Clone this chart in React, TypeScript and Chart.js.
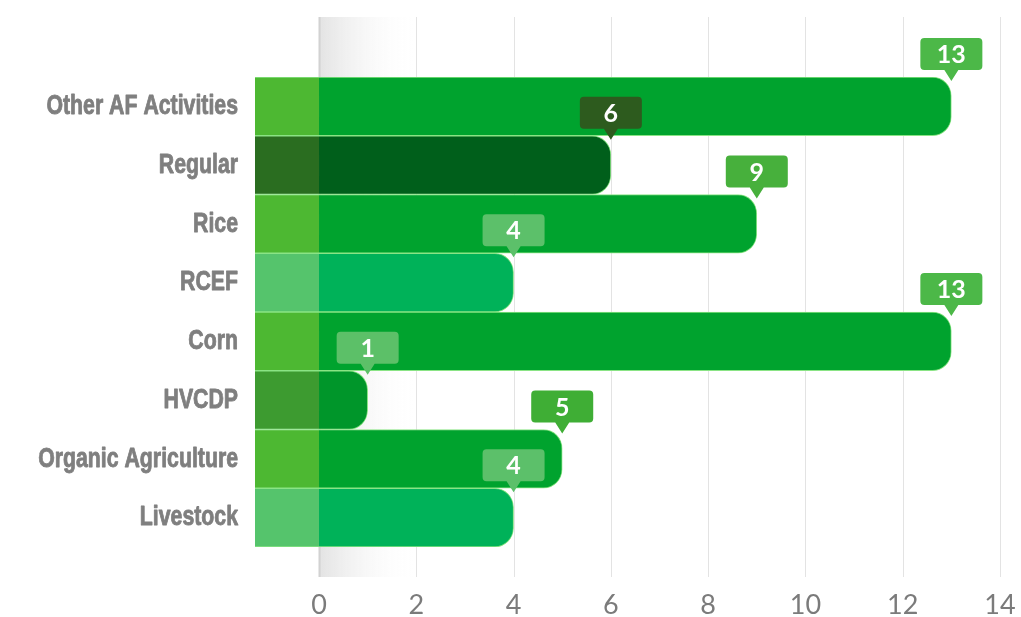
import React, { useEffect, useRef } from "react";
import { Chart, registerables } from "chart.js";

Chart.register(...registerables);

const CATEGORIES = [
  "Other AF Activities",
  "Regular",
  "Rice",
  "RCEF",
  "Corn",
  "HVCDP",
  "Organic Agriculture",
  "Livestock",
];
const VALUES = [13, 6, 9, 4, 13, 1, 5, 4];
const BAR_COLORS = ["#00a32e", "#005f1b", "#00a32e", "#00b259", "#00a32e", "#00962a", "#00a32e", "#00b259"];
const BLOCK_COLORS = ["#4db832", "#2a6d20", "#4db832", "#55c46c", "#4db832", "#3d9b30", "#4db832", "#55c46c"];
const BUBBLE_COLORS = ["#4cb848", "#2d5b1e", "#47b03c", "#5cc06a", "#4cb848", "#5cc068", "#3fae35", "#5cc06a"];
const X_TICKS = [0, 2, 4, 6, 8, 10, 12, 14];
const X_MAX = 14;
const BLOCK_START = -1.316;

const EDGE = "#8ae485";

const backdropPlugin = {
  id: "backdrop",
  beforeDatasetsDraw(chart: any) {
    const { ctx, chartArea } = chart;
    const xs = chart.scales.x;
    const top = chartArea.top - 60;
    const bottom = chartArea.bottom + 30;
    const x0 = xs.getPixelForValue(0);
    const x2 = xs.getPixelForValue(2);
    ctx.save();
    const g = ctx.createLinearGradient(x0, 0, x2, 0);
    g.addColorStop(0, "rgba(215,215,215,0.7)");
    g.addColorStop(1, "rgba(255,255,255,0)");
    ctx.fillStyle = g;
    ctx.fillRect(x0, top, x2 - x0, bottom - top);
    X_TICKS.forEach((v) => {
      const x = Math.round(xs.getPixelForValue(v)) + 0.5;
      ctx.beginPath();
      ctx.strokeStyle = v === 0 ? "#d2d2d2" : "#e3e3e3";
      ctx.lineWidth = v === 0 ? 2 : 1;
      ctx.moveTo(x, top);
      ctx.lineTo(x, bottom);
      ctx.stroke();
    });
    ctx.restore();
  },
};

const labelPlugin = {
  id: "ylabels",
  afterDraw(chart: any) {
    const { ctx, chartArea } = chart;
    const ys = chart.scales.y;
    const right = chartArea.left - 17;
    const sx = 0.76;
    ctx.save();
    ctx.fillStyle = "#7f7f7f";
    ctx.strokeStyle = "#7f7f7f";
    ctx.lineWidth = 0.9;
    ctx.lineJoin = "round";
    ctx.font = "bold 28px 'Liberation Sans', Arial, sans-serif";
    ctx.textAlign = "right";
    ctx.textBaseline = "middle";
    CATEGORIES.forEach((label, i) => {
      const y = ys.getPixelForValue(i);
      ctx.save();
      ctx.translate(right, y);
      ctx.scale(sx, 1);
      ctx.fillText(label, 0, 0);
      ctx.strokeText(label, 0, 0);
      ctx.restore();
    });
    ctx.restore();
  },
};

const bubblePlugin = {
  id: "bubbles",
  afterDatasetsDraw(chart: any) {
    const { ctx } = chart;
    const meta = chart.getDatasetMeta(0);
    ctx.save();
    meta.data.forEach((bar: any, i: number) => {
      const cx = bar.x;
      const barTop = bar.y - bar.height / 2;
      const w = 62;
      const h = 32;
      const bottom = barTop - 7;
      const topY = bottom - h;
      const left = cx - w / 2;
      const r = 4;
      ctx.fillStyle = BUBBLE_COLORS[i];
      ctx.beginPath();
      ctx.moveTo(left + r, topY);
      ctx.lineTo(left + w - r, topY);
      ctx.quadraticCurveTo(left + w, topY, left + w, topY + r);
      ctx.lineTo(left + w, bottom - r);
      ctx.quadraticCurveTo(left + w, bottom, left + w - r, bottom);
      ctx.lineTo(cx + 7, bottom);
      ctx.lineTo(cx, barTop + 4);
      ctx.lineTo(cx - 7, bottom);
      ctx.lineTo(left + r, bottom);
      ctx.quadraticCurveTo(left, bottom, left, bottom - r);
      ctx.lineTo(left, topY + r);
      ctx.quadraticCurveTo(left, topY, left + r, topY);
      ctx.closePath();
      ctx.fill();
      ctx.fillStyle = "#ffffff";
      ctx.font = "bold 25px Lato, 'Open Sans', sans-serif";
      ctx.textAlign = "center";
      ctx.textBaseline = "middle";
      ctx.fillText(String(VALUES[i]), cx, topY + h / 2 + 1);
    });
    ctx.restore();
  },
};

export default function App() {
  const ref = useRef<HTMLCanvasElement>(null);

  useEffect(() => {
    const chart = new Chart(ref.current as HTMLCanvasElement, {
      type: "bar",
      data: {
        labels: CATEGORIES,
        datasets: [
          {
            data: VALUES,
            backgroundColor: BAR_COLORS,
            borderColor: EDGE,
            borderWidth: 1,
            borderSkipped: "start",
            borderRadius: 19,
            grouped: false,
            barPercentage: 1,
            categoryPercentage: 1,
          } as any,
          {
            data: CATEGORIES.map(() => [BLOCK_START, 0]),
            backgroundColor: BLOCK_COLORS,
            borderColor: EDGE,
            borderWidth: { top: 1, bottom: 1, left: 0, right: 0 },
            borderSkipped: false,
            borderRadius: 0,
            grouped: false,
            barPercentage: 1,
            categoryPercentage: 1,
          } as any,
        ],
      },
      options: {
        indexAxis: "y",
        animation: false,
        responsive: false,
        layout: { padding: { top: 77, right: 21, bottom: 0, left: 0 } },
        plugins: {
          legend: { display: false },
          tooltip: { enabled: false },
        },
        scales: {
          x: {
            type: "linear",
            min: BLOCK_START,
            max: X_MAX,
            afterBuildTicks: (scale: any) => {
              scale.ticks = X_TICKS.map((v) => ({ value: v }));
            },
            afterFit: (scale: any) => {
              scale.height = 70;
              scale.paddingLeft = 0;
              scale.paddingRight = 0;
            },
            grid: { display: false },
            border: { display: false },
            ticks: {
              color: "#7b7b7b",
              padding: 34,
              maxRotation: 0,
              autoSkip: false,
              font: { family: "Lato, 'Open Sans', sans-serif", size: 27 },
            },
          },
          y: {
            type: "category",
            afterFit: (scale: any) => {
              scale.width = 255;
            },
            grid: { display: false },
            border: { display: false },
            ticks: { display: false },
          },
        },
      } as any,
      plugins: [backdropPlugin, bubblePlugin, labelPlugin],
    });
    return () => chart.destroy();
  }, []);

  return (
    <div style={{ position: "absolute", left: 0, top: 0, width: 1021, height: 617, background: "#ffffff" }}>
      <canvas ref={ref} width={1021} height={617} style={{ display: "block" }} />
    </div>
  );
}
